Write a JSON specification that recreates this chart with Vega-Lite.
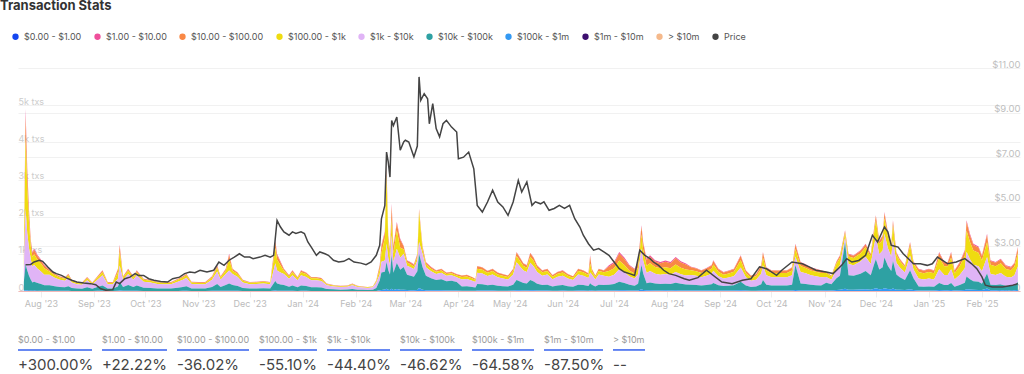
{
"$schema": "https://vega.github.io/schema/vega-lite/v6.json",
"padding": {"left": 0, "top": 0, "right": 4, "bottom": 0},
"background": "white",
"bounds": "flush",
"spacing": 41,
"title": {"text": "Transaction Stats", "anchor": "start", "dx": -11, "dy": -1, "fontSize": 13, "fontWeight": 700, "color": "#333333", "font": "Inter", "offset": 18},
"config": {"font": "Inter", "view": {"stroke": null}},
"datasets": {
"tx": [
{"date":"2023-07-22","b":20,"c":80,"d":200,"e":350,"f":240,"g":10},
{"date":"2023-07-23","b":180,"c":600,"d":1900,"e":1500,"f":700,"g":20},
{"date":"2023-07-24","b":100,"c":450,"d":1200,"e":1000,"f":530,"g":20},
{"date":"2023-07-25","b":60,"c":280,"d":700,"e":750,"f":400,"g":10},
{"date":"2023-07-26","b":42,"c":140,"d":350,"e":560,"f":294,"g":14},
{"date":"2023-07-27","b":32,"c":105,"d":262,"e":420,"f":221,"g":10},
{"date":"2023-07-28","b":34,"c":114,"d":285,"e":456,"f":240,"g":11},
{"date":"2023-07-30","b":29,"c":97,"d":243,"e":388,"f":204,"g":9},
{"date":"2023-08-01","b":26,"c":85,"d":212,"e":340,"f":178,"g":9},
{"date":"2023-08-03","b":21,"c":70,"d":175,"e":280,"f":147,"g":7},
{"date":"2023-08-06","b":12,"c":41,"d":87,"e":284,"f":151,"g":5},
{"date":"2023-08-09","b":9,"c":33,"d":70,"e":230,"f":123,"g":5},
{"date":"2023-08-12","b":8,"c":28,"d":60,"e":196,"f":104,"g":4},
{"date":"2023-08-15","b":7,"c":25,"d":54,"e":176,"f":94,"g":4},
{"date":"2023-08-17","b":9,"c":33,"d":70,"e":228,"f":121,"g":5},
{"date":"2023-08-19","b":6,"c":21,"d":45,"e":147,"f":78,"g":3},
{"date":"2023-08-22","b":5,"c":17,"d":36,"e":118,"f":62,"g":2},
{"date":"2023-08-25","b":5,"c":16,"d":34,"e":110,"f":59,"g":2},
{"date":"2023-08-28","b":8,"c":27,"d":57,"e":186,"f":99,"g":3},
{"date":"2023-08-31","b":5,"c":16,"d":35,"e":112,"f":60,"g":2},
{"date":"2023-09-03","b":8,"c":28,"d":60,"e":196,"f":104,"g":4},
{"date":"2023-09-06","b":11,"c":39,"d":83,"e":272,"f":145,"g":6},
{"date":"2023-09-09","b":5,"c":17,"d":36,"e":118,"f":62,"g":2},
{"date":"2023-09-12","b":5,"c":17,"d":36,"e":118,"f":62,"g":2},
{"date":"2023-09-15","b":18,"c":72,"d":180,"e":210,"f":114,"g":6},
{"date":"2023-09-16","b":37,"c":149,"d":374,"e":436,"f":237,"g":12},
{"date":"2023-09-18","b":8,"c":28,"d":60,"e":196,"f":104,"g":4},
{"date":"2023-09-21","b":12,"c":42,"d":90,"e":294,"f":156,"g":6},
{"date":"2023-09-24","b":8,"c":28,"d":60,"e":196,"f":104,"g":4},
{"date":"2023-09-26","b":11,"c":39,"d":83,"e":272,"f":145,"g":6},
{"date":"2023-09-30","b":7,"c":23,"d":50,"e":162,"f":86,"g":3},
{"date":"2023-10-04","b":6,"c":21,"d":45,"e":147,"f":78,"g":3},
{"date":"2023-10-08","b":5,"c":18,"d":37,"e":122,"f":65,"g":3},
{"date":"2023-10-12","b":5,"c":17,"d":36,"e":119,"f":63,"g":2},
{"date":"2023-10-16","b":5,"c":17,"d":36,"e":118,"f":62,"g":2},
{"date":"2023-10-20","b":7,"c":23,"d":50,"e":162,"f":86,"g":3},
{"date":"2023-10-23","b":8,"c":28,"d":60,"e":196,"f":104,"g":4},
{"date":"2023-10-25","b":9,"c":33,"d":70,"e":228,"f":121,"g":5},
{"date":"2023-10-28","b":5,"c":18,"d":37,"e":122,"f":65,"g":3},
{"date":"2023-11-01","b":5,"c":17,"d":36,"e":118,"f":62,"g":2},
{"date":"2023-11-05","b":5,"c":17,"d":36,"e":118,"f":62,"g":2},
{"date":"2023-11-09","b":8,"c":28,"d":60,"e":196,"f":104,"g":4},
{"date":"2023-11-12","b":14,"c":48,"d":104,"e":338,"f":179,"g":7},
{"date":"2023-11-14","b":8,"c":28,"d":60,"e":196,"f":104,"g":4},
{"date":"2023-11-17","b":12,"c":42,"d":90,"e":294,"f":156,"g":6},
{"date":"2023-11-19","b":30,"c":120,"d":300,"e":350,"f":190,"g":10},
{"date":"2023-11-21","b":12,"c":42,"d":90,"e":294,"f":156,"g":6},
{"date":"2023-11-24","b":10,"c":35,"d":75,"e":245,"f":130,"g":5},
{"date":"2023-11-27","b":6,"c":21,"d":45,"e":147,"f":78,"g":3},
{"date":"2023-12-01","b":5,"c":17,"d":36,"e":119,"f":63,"g":2},
{"date":"2023-12-05","b":5,"c":18,"d":37,"e":122,"f":65,"g":3},
{"date":"2023-12-09","b":5,"c":19,"d":41,"e":132,"f":70,"g":3},
{"date":"2023-12-13","b":5,"c":17,"d":36,"e":119,"f":63,"g":2},
{"date":"2023-12-16","b":41,"c":163,"d":408,"e":476,"f":258,"g":14},
{"date":"2023-12-17","b":30,"c":120,"d":300,"e":350,"f":190,"g":10},
{"date":"2023-12-19","b":24,"c":80,"d":200,"e":320,"f":168,"g":8},
{"date":"2023-12-21","b":12,"c":42,"d":90,"e":294,"f":156,"g":6},
{"date":"2023-12-24","b":9,"c":30,"d":65,"e":211,"f":112,"g":4},
{"date":"2023-12-26","b":11,"c":39,"d":83,"e":272,"f":145,"g":6},
{"date":"2023-12-29","b":8,"c":27,"d":57,"e":186,"f":99,"g":3},
{"date":"2023-12-31","b":11,"c":39,"d":83,"e":272,"f":145,"g":6},
{"date":"2024-01-03","b":10,"c":35,"d":75,"e":245,"f":130,"g":5},
{"date":"2024-01-06","b":8,"c":27,"d":57,"e":186,"f":99,"g":3},
{"date":"2024-01-09","b":8,"c":27,"d":57,"e":186,"f":99,"g":3},
{"date":"2024-01-12","b":7,"c":25,"d":52,"e":172,"f":91,"g":3},
{"date":"2024-01-15","b":4,"c":14,"d":30,"e":98,"f":52,"g":2},
{"date":"2024-01-19","b":3,"c":11,"d":24,"e":78,"f":42,"g":2},
{"date":"2024-01-23","b":3,"c":10,"d":21,"e":69,"f":36,"g":1},
{"date":"2024-01-27","b":3,"c":10,"d":23,"e":74,"f":39,"g":1},
{"date":"2024-01-30","b":4,"c":14,"d":30,"e":98,"f":52,"g":2},
{"date":"2024-02-02","b":3,"c":10,"d":21,"e":69,"f":36,"g":1},
{"date":"2024-02-05","b":2,"c":8,"d":18,"e":59,"f":31,"g":2},
{"date":"2024-02-08","b":2,"c":8,"d":16,"e":54,"f":29,"g":1},
{"date":"2024-02-11","b":3,"c":9,"d":19,"e":64,"f":34,"g":1},
{"date":"2024-02-13","b":6,"c":20,"d":44,"e":142,"f":75,"g":3},
{"date":"2024-02-15","b":18,"c":105,"d":133,"e":161,"f":266,"g":17},
{"date":"2024-02-16","b":31,"c":186,"d":235,"e":285,"f":470,"g":30},
{"date":"2024-02-18","b":30,"c":150,"d":600,"e":300,"f":480,"g":40},
{"date":"2024-02-19","b":40,"c":230,"d":1840,"e":492,"f":720,"g":59},
{"date":"2024-02-20","b":25,"c":140,"d":450,"e":330,"f":520,"g":35},
{"date":"2024-02-21","b":28,"c":165,"d":209,"e":253,"f":418,"g":27},
{"date":"2024-02-22","b":60,"c":350,"d":440,"e":540,"f":900,"g":60},
{"date":"2024-02-23","b":31,"c":183,"d":232,"e":281,"f":463,"g":30},
{"date":"2024-02-25","b":40,"c":180,"d":500,"e":380,"f":700,"g":56},
{"date":"2024-02-27","b":35,"c":211,"d":267,"e":324,"f":535,"g":35},
{"date":"2024-02-29","b":18,"c":79,"d":122,"e":354,"f":610,"g":37},
{"date":"2024-03-02","b":12,"c":54,"d":83,"e":241,"f":415,"g":25},
{"date":"2024-03-04","b":12,"c":51,"d":78,"e":226,"f":390,"g":23},
{"date":"2024-03-06","b":11,"c":47,"d":72,"e":209,"f":360,"g":21},
{"date":"2024-03-08","b":15,"c":65,"d":100,"e":290,"f":500,"g":30},
{"date":"2024-03-09","b":20,"c":70,"d":807,"e":315,"f":920,"g":82},
{"date":"2024-03-11","b":18,"c":79,"d":122,"e":354,"f":610,"g":37},
{"date":"2024-03-13","b":12,"c":51,"d":78,"e":226,"f":390,"g":23},
{"date":"2024-03-16","b":10,"c":42,"d":65,"e":189,"f":325,"g":19},
{"date":"2024-03-19","b":8,"c":36,"d":56,"e":163,"f":280,"g":17},
{"date":"2024-03-22","b":9,"c":39,"d":60,"e":174,"f":300,"g":18},
{"date":"2024-03-25","b":8,"c":32,"d":50,"e":145,"f":250,"g":15},
{"date":"2024-03-28","b":8,"c":34,"d":52,"e":151,"f":260,"g":15},
{"date":"2024-03-31","b":7,"c":30,"d":45,"e":132,"f":228,"g":13},
{"date":"2024-04-03","b":6,"c":38,"d":67,"e":189,"f":111,"g":9},
{"date":"2024-04-06","b":7,"c":40,"d":70,"e":198,"f":117,"g":8},
{"date":"2024-04-09","b":6,"c":34,"d":61,"e":171,"f":101,"g":7},
{"date":"2024-04-11","b":5,"c":30,"d":53,"e":148,"f":87,"g":7},
{"date":"2024-04-12","b":10,"c":61,"d":108,"e":303,"f":178,"g":13},
{"date":"2024-04-15","b":10,"c":58,"d":102,"e":288,"f":170,"g":12},
{"date":"2024-04-18","b":8,"c":49,"d":87,"e":245,"f":144,"g":12},
{"date":"2024-04-21","b":9,"c":54,"d":96,"e":270,"f":159,"g":12},
{"date":"2024-04-24","b":8,"c":45,"d":80,"e":225,"f":132,"g":10},
{"date":"2024-04-27","b":7,"c":41,"d":73,"e":205,"f":120,"g":9},
{"date":"2024-04-30","b":6,"c":38,"d":67,"e":189,"f":111,"g":9},
{"date":"2024-05-03","b":9,"c":54,"d":96,"e":270,"f":159,"g":12},
{"date":"2024-05-05","b":16,"c":95,"d":168,"e":472,"f":278,"g":21},
{"date":"2024-05-07","b":14,"c":81,"d":144,"e":405,"f":238,"g":18},
{"date":"2024-05-09","b":11,"c":68,"d":120,"e":337,"f":199,"g":15},
{"date":"2024-05-11","b":11,"c":63,"d":112,"e":315,"f":185,"g":14},
{"date":"2024-05-13","b":15,"c":93,"d":165,"e":464,"f":273,"g":20},
{"date":"2024-05-15","b":14,"c":81,"d":144,"e":405,"f":238,"g":18},
{"date":"2024-05-17","b":10,"c":62,"d":110,"e":311,"f":183,"g":14},
{"date":"2024-05-20","b":8,"c":50,"d":90,"e":252,"f":148,"g":12},
{"date":"2024-05-23","b":9,"c":54,"d":96,"e":270,"f":159,"g":12},
{"date":"2024-05-26","b":6,"c":39,"d":69,"e":194,"f":114,"g":8},
{"date":"2024-05-29","b":8,"c":47,"d":83,"e":234,"f":138,"g":10},
{"date":"2024-06-01","b":8,"c":50,"d":89,"e":250,"f":147,"g":12},
{"date":"2024-06-04","b":7,"c":41,"d":74,"e":207,"f":122,"g":9},
{"date":"2024-06-07","b":6,"c":36,"d":64,"e":180,"f":106,"g":8},
{"date":"2024-06-10","b":9,"c":54,"d":96,"e":270,"f":159,"g":12},
{"date":"2024-06-13","b":8,"c":50,"d":90,"e":252,"f":148,"g":12},
{"date":"2024-06-16","b":7,"c":43,"d":77,"e":216,"f":127,"g":10},
{"date":"2024-06-17","b":29,"c":192,"d":240,"e":288,"f":192,"g":19},
{"date":"2024-06-18","b":9,"c":54,"d":96,"e":270,"f":159,"g":12},
{"date":"2024-06-20","b":6,"c":38,"d":67,"e":189,"f":111,"g":9},
{"date":"2024-06-22","b":9,"c":54,"d":96,"e":270,"f":159,"g":12},
{"date":"2024-06-25","b":8,"c":50,"d":90,"e":252,"f":148,"g":12},
{"date":"2024-06-28","b":28,"c":124,"d":152,"e":221,"f":152,"g":13},
{"date":"2024-07-01","b":31,"c":140,"d":172,"e":250,"f":172,"g":15},
{"date":"2024-07-04","b":42,"c":189,"d":231,"e":336,"f":231,"g":21},
{"date":"2024-07-07","b":36,"c":162,"d":198,"e":288,"f":198,"g":18},
{"date":"2024-07-10","b":28,"c":126,"d":154,"e":224,"f":154,"g":14},
{"date":"2024-07-13","b":24,"c":108,"d":132,"e":192,"f":132,"g":12},
{"date":"2024-07-15","b":32,"c":144,"d":176,"e":256,"f":176,"g":16},
{"date":"2024-07-17","b":40,"c":200,"d":380,"e":450,"f":650,"g":47},
{"date":"2024-07-18","b":30,"c":180,"d":280,"e":350,"f":440,"g":30},
{"date":"2024-07-20","b":35,"c":157,"d":191,"e":278,"f":191,"g":18},
{"date":"2024-07-22","b":38,"c":173,"d":211,"e":307,"f":211,"g":20},
{"date":"2024-07-25","b":33,"c":149,"d":183,"e":266,"f":183,"g":16},
{"date":"2024-07-28","b":31,"c":140,"d":172,"e":250,"f":172,"g":15},
{"date":"2024-07-31","b":33,"c":148,"d":180,"e":262,"f":180,"g":17},
{"date":"2024-08-03","b":31,"c":140,"d":172,"e":250,"f":172,"g":15},
{"date":"2024-08-06","b":37,"c":165,"d":201,"e":293,"f":201,"g":18},
{"date":"2024-08-09","b":32,"c":144,"d":176,"e":256,"f":176,"g":16},
{"date":"2024-08-12","b":30,"c":133,"d":163,"e":237,"f":163,"g":14},
{"date":"2024-08-15","b":13,"c":78,"d":130,"e":260,"f":156,"g":13},
{"date":"2024-08-18","b":12,"c":74,"d":124,"e":248,"f":149,"g":13},
{"date":"2024-08-21","b":11,"c":67,"d":112,"e":224,"f":134,"g":12},
{"date":"2024-08-24","b":12,"c":74,"d":124,"e":248,"f":149,"g":13},
{"date":"2024-08-27","b":14,"c":84,"d":140,"e":280,"f":168,"g":14},
{"date":"2024-08-28","b":17,"c":99,"d":165,"e":330,"f":198,"g":17},
{"date":"2024-08-31","b":12,"c":72,"d":120,"e":240,"f":144,"g":12},
{"date":"2024-09-03","b":10,"c":61,"d":102,"e":204,"f":122,"g":11},
{"date":"2024-09-06","b":11,"c":66,"d":110,"e":220,"f":132,"g":11},
{"date":"2024-09-09","b":12,"c":72,"d":120,"e":240,"f":144,"g":12},
{"date":"2024-09-13","b":19,"c":115,"d":192,"e":384,"f":230,"g":20},
{"date":"2024-09-16","b":11,"c":67,"d":112,"e":224,"f":134,"g":12},
{"date":"2024-09-19","b":8,"c":50,"d":84,"e":168,"f":101,"g":9},
{"date":"2024-09-22","b":9,"c":55,"d":92,"e":184,"f":110,"g":10},
{"date":"2024-09-25","b":14,"c":84,"d":140,"e":280,"f":168,"g":14},
{"date":"2024-09-26","b":21,"c":126,"d":210,"e":400,"f":270,"g":23},
{"date":"2024-09-28","b":13,"c":77,"d":128,"e":256,"f":154,"g":12},
{"date":"2024-10-01","b":11,"c":67,"d":112,"e":224,"f":134,"g":12},
{"date":"2024-10-04","b":11,"c":67,"d":112,"e":224,"f":134,"g":12},
{"date":"2024-10-07","b":11,"c":67,"d":112,"e":224,"f":134,"g":12},
{"date":"2024-10-10","b":11,"c":67,"d":112,"e":224,"f":134,"g":12},
{"date":"2024-10-13","b":13,"c":77,"d":128,"e":256,"f":154,"g":12},
{"date":"2024-10-15","b":25,"c":120,"d":200,"e":230,"f":670,"g":27},
{"date":"2024-10-18","b":16,"c":94,"d":156,"e":312,"f":187,"g":15},
{"date":"2024-10-21","b":14,"c":86,"d":144,"e":288,"f":173,"g":15},
{"date":"2024-10-24","b":13,"c":77,"d":128,"e":256,"f":154,"g":12},
{"date":"2024-10-27","b":12,"c":72,"d":120,"e":240,"f":144,"g":12},
{"date":"2024-10-30","b":11,"c":67,"d":112,"e":224,"f":134,"g":12},
{"date":"2024-11-02","b":8,"c":31,"d":104,"e":156,"f":203,"g":18},
{"date":"2024-11-05","b":6,"c":25,"d":84,"e":126,"f":164,"g":15},
{"date":"2024-11-08","b":12,"c":48,"d":160,"e":240,"f":312,"g":28},
{"date":"2024-11-10","b":14,"c":58,"d":192,"e":288,"f":374,"g":34},
{"date":"2024-11-13","b":20,"c":60,"d":120,"e":120,"f":1250,"g":62},
{"date":"2024-11-15","b":15,"c":60,"d":200,"e":300,"f":390,"g":35},
{"date":"2024-11-18","b":14,"c":58,"d":192,"e":288,"f":374,"g":34},
{"date":"2024-11-22","b":16,"c":66,"d":219,"e":328,"f":427,"g":38},
{"date":"2024-11-25","b":19,"c":76,"d":254,"e":382,"f":496,"g":45},
{"date":"2024-11-28","b":15,"c":60,"d":200,"e":300,"f":390,"g":35},
{"date":"2024-11-30","b":26,"c":102,"d":340,"e":510,"f":663,"g":59},
{"date":"2024-12-01","b":20,"c":122,"d":448,"e":590,"f":780,"g":76},
{"date":"2024-12-03","b":20,"c":82,"d":272,"e":409,"f":531,"g":48},
{"date":"2024-12-05","b":23,"c":90,"d":300,"e":450,"f":585,"g":52},
{"date":"2024-12-06","b":32,"c":128,"d":425,"e":638,"f":829,"g":73},
{"date":"2024-12-08","b":24,"c":96,"d":320,"e":480,"f":624,"g":56},
{"date":"2024-12-10","b":19,"c":76,"d":254,"e":382,"f":496,"g":45},
{"date":"2024-12-11","b":29,"c":114,"d":380,"e":571,"f":742,"g":66},
{"date":"2024-12-13","b":16,"c":63,"d":210,"e":315,"f":410,"g":36},
{"date":"2024-12-15","b":13,"c":52,"d":174,"e":261,"f":339,"g":31},
{"date":"2024-12-18","b":10,"c":41,"d":138,"e":207,"f":269,"g":25},
{"date":"2024-12-21","b":20,"c":79,"d":264,"e":395,"f":514,"g":46},
{"date":"2024-12-23","b":12,"c":48,"d":160,"e":240,"f":312,"g":28},
{"date":"2024-12-26","b":15,"c":72,"d":180,"e":210,"f":108,"g":15},
{"date":"2024-12-29","b":14,"c":67,"d":168,"e":196,"f":101,"g":14},
{"date":"2025-01-01","b":15,"c":72,"d":180,"e":210,"f":108,"g":15},
{"date":"2025-01-04","b":14,"c":67,"d":168,"e":196,"f":101,"g":14},
{"date":"2025-01-07","b":26,"c":126,"d":315,"e":368,"f":189,"g":26},
{"date":"2025-01-10","b":20,"c":94,"d":234,"e":273,"f":140,"g":19},
{"date":"2025-01-12","b":20,"c":94,"d":234,"e":273,"f":140,"g":19},
{"date":"2025-01-14","b":26,"c":126,"d":315,"e":368,"f":189,"g":26},
{"date":"2025-01-16","b":14,"c":67,"d":168,"e":196,"f":101,"g":14},
{"date":"2025-01-19","b":20,"c":94,"d":234,"e":273,"f":140,"g":19},
{"date":"2025-01-22","b":28,"c":132,"d":330,"e":385,"f":198,"g":27},
{"date":"2025-01-23","b":48,"c":228,"d":571,"e":666,"f":342,"g":47},
{"date":"2025-01-25","b":39,"c":185,"d":463,"e":540,"f":277,"g":38},
{"date":"2025-01-27","b":32,"c":153,"d":382,"e":445,"f":229,"g":31},
{"date":"2025-01-30","b":30,"c":144,"d":360,"e":420,"f":216,"g":30},
{"date":"2025-02-01","b":24,"c":115,"d":288,"e":336,"f":173,"g":24},
{"date":"2025-02-04","b":39,"c":185,"d":400,"e":450,"f":400,"g":68},
{"date":"2025-02-06","b":21,"c":99,"d":248,"e":289,"f":149,"g":20},
{"date":"2025-02-09","b":20,"c":94,"d":234,"e":273,"f":140,"g":19},
{"date":"2025-02-12","b":22,"c":104,"d":261,"e":305,"f":157,"g":21},
{"date":"2025-02-15","b":17,"c":83,"d":207,"e":242,"f":124,"g":17},
{"date":"2025-02-18","b":16,"c":78,"d":195,"e":228,"f":117,"g":16},
{"date":"2025-02-20","b":19,"c":91,"d":228,"e":266,"f":137,"g":19},
{"date":"2025-02-22","b":30,"c":142,"d":355,"e":414,"f":213,"g":30}
],
"px": [
{"date":"2023-07-23","price":2.18},{"date":"2023-07-26","price":2.19},{"date":"2023-07-28","price":2.30},{"date":"2023-07-31","price":2.38},
{"date":"2023-08-02","price":2.33},{"date":"2023-08-05","price":2.08},{"date":"2023-08-08","price":1.85},{"date":"2023-08-10","price":1.78},
{"date":"2023-08-13","price":1.70},{"date":"2023-08-16","price":1.58},{"date":"2023-08-19","price":1.48},{"date":"2023-08-22","price":1.40},
{"date":"2023-08-26","price":1.36},{"date":"2023-08-30","price":1.33},{"date":"2023-09-02","price":1.28},{"date":"2023-09-05","price":1.10},
{"date":"2023-09-08","price":1.03},{"date":"2023-09-12","price":1.06},{"date":"2023-09-14","price":1.40},{"date":"2023-09-16","price":1.33},
{"date":"2023-09-19","price":1.55},{"date":"2023-09-22","price":1.62},{"date":"2023-09-25","price":1.78},{"date":"2023-09-27","price":1.70},
{"date":"2023-09-30","price":1.70},{"date":"2023-10-03","price":1.55},{"date":"2023-10-06","price":1.48},{"date":"2023-10-10","price":1.43},
{"date":"2023-10-14","price":1.40},{"date":"2023-10-17","price":1.55},{"date":"2023-10-21","price":1.62},{"date":"2023-10-24","price":1.78},
{"date":"2023-10-27","price":1.85},{"date":"2023-10-30","price":1.82},{"date":"2023-11-02","price":1.93},{"date":"2023-11-06","price":1.85},
{"date":"2023-11-10","price":1.93},{"date":"2023-11-13","price":2.30},{"date":"2023-11-16","price":2.15},{"date":"2023-11-19","price":2.38},
{"date":"2023-11-22","price":2.52},{"date":"2023-11-25","price":2.67},{"date":"2023-11-28","price":2.52},{"date":"2023-12-01","price":2.52},
{"date":"2023-12-03","price":2.45},{"date":"2023-12-07","price":2.52},{"date":"2023-12-10","price":2.60},{"date":"2023-12-13","price":2.52},
{"date":"2023-12-15","price":2.60},{"date":"2023-12-17","price":4.17},{"date":"2023-12-19","price":3.87},{"date":"2023-12-21","price":3.65},
{"date":"2023-12-24","price":3.50},{"date":"2023-12-26","price":3.65},{"date":"2023-12-28","price":3.58},{"date":"2023-12-31","price":3.65},
{"date":"2024-01-02","price":3.58},{"date":"2024-01-04","price":3.20},{"date":"2024-01-06","price":2.97},{"date":"2024-01-09","price":2.60},
{"date":"2024-01-11","price":2.75},{"date":"2024-01-14","price":2.67},{"date":"2024-01-16","price":2.60},{"date":"2024-01-19","price":2.38},
{"date":"2024-01-22","price":2.30},{"date":"2024-01-25","price":2.33},{"date":"2024-01-28","price":2.45},{"date":"2024-01-31","price":2.30},
{"date":"2024-02-04","price":2.25},{"date":"2024-02-07","price":2.18},{"date":"2024-02-10","price":2.30},{"date":"2024-02-13","price":2.60},
{"date":"2024-02-15","price":3.05},{"date":"2024-02-16","price":4.24},{"date":"2024-02-18","price":4.84},{"date":"2024-02-19","price":7.23},
{"date":"2024-02-20","price":6.78},{"date":"2024-02-21","price":6.11},{"date":"2024-02-22","price":8.65},{"date":"2024-02-23","price":8.42},
{"date":"2024-02-25","price":8.80},{"date":"2024-02-27","price":7.31},{"date":"2024-02-29","price":7.68},{"date":"2024-03-01","price":7.76},
{"date":"2024-03-03","price":7.68},{"date":"2024-03-05","price":7.23},{"date":"2024-03-06","price":7.01},{"date":"2024-03-08","price":7.50},
{"date":"2024-03-09","price":10.60},{"date":"2024-03-10","price":9.55},{"date":"2024-03-12","price":9.85},{"date":"2024-03-14","price":9.62},
{"date":"2024-03-15","price":8.50},{"date":"2024-03-17","price":9.40},{"date":"2024-03-19","price":8.28},{"date":"2024-03-21","price":7.91},
{"date":"2024-03-23","price":8.50},{"date":"2024-03-25","price":8.65},{"date":"2024-03-28","price":8.35},{"date":"2024-03-31","price":8.13},
{"date":"2024-04-01","price":6.93},{"date":"2024-04-04","price":7.00},{"date":"2024-04-07","price":7.23},{"date":"2024-04-10","price":6.48},
{"date":"2024-04-12","price":4.84},{"date":"2024-04-15","price":4.54},{"date":"2024-04-18","price":4.99},{"date":"2024-04-21","price":5.52},
{"date":"2024-04-24","price":4.99},{"date":"2024-04-27","price":4.77},{"date":"2024-04-30","price":4.39},{"date":"2024-05-03","price":4.99},
{"date":"2024-05-06","price":5.96},{"date":"2024-05-08","price":5.44},{"date":"2024-05-11","price":5.89},{"date":"2024-05-14","price":4.84},
{"date":"2024-05-16","price":5.00},{"date":"2024-05-19","price":4.91},{"date":"2024-05-21","price":5.00},{"date":"2024-05-24","price":4.62},
{"date":"2024-05-27","price":4.70},{"date":"2024-05-30","price":4.84},{"date":"2024-06-02","price":4.70},{"date":"2024-06-05","price":4.84},
{"date":"2024-06-08","price":4.24},{"date":"2024-06-11","price":3.87},{"date":"2024-06-13","price":3.50},{"date":"2024-06-16","price":3.12},
{"date":"2024-06-19","price":2.83},{"date":"2024-06-22","price":2.90},{"date":"2024-06-25","price":2.75},{"date":"2024-06-28","price":2.60},
{"date":"2024-07-01","price":2.30},{"date":"2024-07-04","price":2.00},{"date":"2024-07-07","price":1.85},{"date":"2024-07-10","price":1.78},
{"date":"2024-07-13","price":1.70},{"date":"2024-07-16","price":2.83},{"date":"2024-07-19","price":2.60},{"date":"2024-07-22","price":2.45},
{"date":"2024-07-24","price":2.30},{"date":"2024-07-27","price":2.15},{"date":"2024-07-30","price":1.93},{"date":"2024-08-02","price":1.78},
{"date":"2024-08-06","price":1.70},{"date":"2024-08-11","price":1.55},{"date":"2024-08-14","price":1.48},{"date":"2024-08-19","price":1.60},
{"date":"2024-08-24","price":1.93},{"date":"2024-09-02","price":1.40},{"date":"2024-09-08","price":1.33},{"date":"2024-09-14","price":1.48},
{"date":"2024-09-19","price":1.55},{"date":"2024-09-24","price":2.08},{"date":"2024-09-28","price":2.00},{"date":"2024-10-04","price":1.70},
{"date":"2024-10-07","price":1.93},{"date":"2024-10-13","price":2.30},{"date":"2024-10-19","price":2.22},{"date":"2024-10-23","price":2.08},
{"date":"2024-10-27","price":1.93},{"date":"2024-11-02","price":1.85},{"date":"2024-11-06","price":1.78},{"date":"2024-11-11","price":2.15},
{"date":"2024-11-14","price":2.45},{"date":"2024-11-17","price":2.30},{"date":"2024-11-21","price":2.37},{"date":"2024-11-25","price":2.60},
{"date":"2024-11-29","price":3.50},{"date":"2024-12-02","price":3.20},{"date":"2024-12-06","price":3.87},{"date":"2024-12-08","price":3.65},
{"date":"2024-12-10","price":3.05},{"date":"2024-12-14","price":2.97},{"date":"2024-12-17","price":2.67},{"date":"2024-12-20","price":2.45},
{"date":"2024-12-23","price":2.22},{"date":"2024-12-27","price":2.22},{"date":"2024-12-31","price":2.15},{"date":"2025-01-03","price":2.22},
{"date":"2025-01-06","price":2.52},{"date":"2025-01-09","price":2.37},{"date":"2025-01-12","price":2.22},{"date":"2025-01-17","price":2.30},
{"date":"2025-01-22","price":2.45},{"date":"2025-01-26","price":2.22},{"date":"2025-01-29","price":2.00},{"date":"2025-02-01","price":1.63},
{"date":"2025-02-03","price":1.26},{"date":"2025-02-07","price":1.18},{"date":"2025-02-13","price":1.18},{"date":"2025-02-19","price":1.26},
{"date":"2025-02-22","price":1.33}
]
},
"vconcat": [
{
"width": 1002,
"height": 223,
"layer": [
{
"data": {"name": "tx"},
"transform": [{"fold": ["b","c","d","e","f","g"], "as": ["k","v"]}],
"mark": {"type": "area", "interpolate": "linear"},
"encoding": {
"x": {"field": "date", "type": "temporal",
"scale": {"type": "utc", "domain": [{"year":2023,"month":7,"date":18,"hours":14,"utc":true},{"year":2025,"month":2,"date":23,"hours":6,"utc":true}]},
"axis": {"format": "%b '%y", "tickCount": {"interval": "month", "step": 1}, "labelColor": "#bbbbbb", "labelFontSize": 9, "labelFont": "Inter", "tickColor": "#eeeeee", "tickSize": 6, "domainColor": "#f3b9b9", "grid": false, "title": null, "labelPadding": 2, "labelFlush": false, "labelOverlap": false}},
"y": {"field": "v", "type": "quantitative", "stack": "zero", "scale": {"domain": [0, 6000], "nice": false},
"axis": {"orient": "left", "values": [0,1000,2000,3000,4000,5000], "labelExpr": "datum.value == 0 ? '0 txs' : (datum.value/1000) + 'k txs'", "labelAlign": "left", "labelBaseline": "alphabetic", "labelPadding": 0, "labelOffset": -1, "ticks": false, "tickSize": 0, "domain": false, "grid": true, "gridColor": "#f1f1f1", "labelColor": "#cccccc", "labelFontSize": 9, "labelFont": "Inter", "title": null}},
"color": {"field": "k", "type": "nominal",
"scale": {"domain": ["a","b","c","d","e","f","g","h","i","price"], "range": ["#1546f0","#ef4f9b","#f98845","#efdc10","#e0b4f6","#2ea1a3","#3399f3","#3d0f6f","#f5b98b","#444444"]},
"legend": {"title": null, "orient": "none", "legendX": -7, "legendY": -36, "direction": "horizontal", "symbolType": "circle", "symbolSize": 40, "symbolStrokeWidth": 0, "labelFontSize": 9, "labelColor": "#555555", "labelFont": "Inter", "labelOffset": 4, "columnPadding": 11,
"labelExpr": "['$0.00 - $1.00','$1.00 - $10.00','$10.00 - $100.00','$100.00 - $1k','$1k - $10k','$10k - $100k','$100k - $1m','$1m - $10m','> $10m','Price'][indexof(['a','b','c','d','e','f','g','h','i','price'], datum.label)]"}},
"order": {"field": "k", "sort": "descending"}
}
},
{
"data": {"name": "px"},
"mark": {"type": "line", "strokeWidth": 1.5, "interpolate": "linear"},
"encoding": {
"x": {"field": "date", "type": "temporal"},
"y": {"field": "price", "type": "quantitative", "scale": {"domain": [1, 11], "nice": false, "zero": false},
"axis": {"orient": "right", "values": [1,3,5,7,9,11], "labelExpr": "'$' + format(datum.value, '.2f')", "labelAlign": "right", "labelBaseline": "alphabetic", "labelPadding": 0, "labelOffset": -1, "ticks": false, "tickSize": 0, "domain": false, "grid": true, "gridColor": "#f1f1f1", "labelColor": "#c0c0c0", "labelFontSize": 9.5, "labelFont": "Inter", "title": null}},
"color": {"datum": "price", "type": "nominal"}
}
}
],
"resolve": {"scale": {"y": "independent"}}
},
{
"bounds": "flush",
"spacing": 10,
"hconcat": [
{"width": 74, "height": 40, "data": {"values": [{"band": "$0.00 - $1.00", "chg": "+300.00%"}]},
"encoding": {"x": {"datum": 0, "type": "quantitative", "scale": {"domain": [0, 1], "nice": false}, "axis": null}},
"layer": [
{"mark": {"type": "text", "align": "left", "baseline": "middle", "fontSize": 9, "color": "#9a9a9a"}, "encoding": {"y": {"datum": 32, "type": "quantitative", "scale": {"domain": [0, 40], "nice": false}, "axis": null}, "text": {"field": "band"}}},
{"mark": {"type": "bar", "color": "#3560ee"}, "encoding": {"x2": {"datum": 1}, "y": {"datum": 22.8, "type": "quantitative", "axis": null}, "y2": {"datum": 21.3}}},
{"mark": {"type": "text", "align": "left", "baseline": "middle", "fontSize": 15, "color": "#444444"}, "encoding": {"y": {"datum": 7.5, "type": "quantitative", "axis": null}, "text": {"field": "chg"}}}
]},
{"width": 65, "height": 40, "data": {"values": [{"band": "$1.00 - $10.00", "chg": "+22.22%"}]},
"encoding": {"x": {"datum": 0, "type": "quantitative", "scale": {"domain": [0, 1], "nice": false}, "axis": null}},
"layer": [
{"mark": {"type": "text", "align": "left", "baseline": "middle", "fontSize": 9, "color": "#9a9a9a"}, "encoding": {"y": {"datum": 32, "type": "quantitative", "scale": {"domain": [0, 40], "nice": false}, "axis": null}, "text": {"field": "band"}}},
{"mark": {"type": "bar", "color": "#3560ee"}, "encoding": {"x2": {"datum": 1}, "y": {"datum": 22.8, "type": "quantitative", "axis": null}, "y2": {"datum": 21.3}}},
{"mark": {"type": "text", "align": "left", "baseline": "middle", "fontSize": 15, "color": "#444444"}, "encoding": {"y": {"datum": 7.5, "type": "quantitative", "axis": null}, "text": {"field": "chg"}}}
]},
{"width": 72, "height": 40, "data": {"values": [{"band": "$10.00 - $100.00", "chg": "-36.02%"}]},
"encoding": {"x": {"datum": 0, "type": "quantitative", "scale": {"domain": [0, 1], "nice": false}, "axis": null}},
"layer": [
{"mark": {"type": "text", "align": "left", "baseline": "middle", "fontSize": 9, "color": "#9a9a9a"}, "encoding": {"y": {"datum": 32, "type": "quantitative", "scale": {"domain": [0, 40], "nice": false}, "axis": null}, "text": {"field": "band"}}},
{"mark": {"type": "bar", "color": "#3560ee"}, "encoding": {"x2": {"datum": 1}, "y": {"datum": 22.8, "type": "quantitative", "axis": null}, "y2": {"datum": 21.3}}},
{"mark": {"type": "text", "align": "left", "baseline": "middle", "fontSize": 15, "color": "#444444"}, "encoding": {"y": {"datum": 7.5, "type": "quantitative", "axis": null}, "text": {"field": "chg"}}}
]},
{"width": 58, "height": 40, "data": {"values": [{"band": "$100.00 - $1k", "chg": "-55.10%"}]},
"encoding": {"x": {"datum": 0, "type": "quantitative", "scale": {"domain": [0, 1], "nice": false}, "axis": null}},
"layer": [
{"mark": {"type": "text", "align": "left", "baseline": "middle", "fontSize": 9, "color": "#9a9a9a"}, "encoding": {"y": {"datum": 32, "type": "quantitative", "scale": {"domain": [0, 40], "nice": false}, "axis": null}, "text": {"field": "band"}}},
{"mark": {"type": "bar", "color": "#3560ee"}, "encoding": {"x2": {"datum": 1}, "y": {"datum": 22.8, "type": "quantitative", "axis": null}, "y2": {"datum": 21.3}}},
{"mark": {"type": "text", "align": "left", "baseline": "middle", "fontSize": 15, "color": "#444444"}, "encoding": {"y": {"datum": 7.5, "type": "quantitative", "axis": null}, "text": {"field": "chg"}}}
]},
{"width": 63, "height": 40, "data": {"values": [{"band": "$1k - $10k", "chg": "-44.40%"}]},
"encoding": {"x": {"datum": 0, "type": "quantitative", "scale": {"domain": [0, 1], "nice": false}, "axis": null}},
"layer": [
{"mark": {"type": "text", "align": "left", "baseline": "middle", "fontSize": 9, "color": "#9a9a9a"}, "encoding": {"y": {"datum": 32, "type": "quantitative", "scale": {"domain": [0, 40], "nice": false}, "axis": null}, "text": {"field": "band"}}},
{"mark": {"type": "bar", "color": "#3560ee"}, "encoding": {"x2": {"datum": 1}, "y": {"datum": 22.8, "type": "quantitative", "axis": null}, "y2": {"datum": 21.3}}},
{"mark": {"type": "text", "align": "left", "baseline": "middle", "fontSize": 15, "color": "#444444"}, "encoding": {"y": {"datum": 7.5, "type": "quantitative", "axis": null}, "text": {"field": "chg"}}}
]},
{"width": 62, "height": 40, "data": {"values": [{"band": "$10k - $100k", "chg": "-46.62%"}]},
"encoding": {"x": {"datum": 0, "type": "quantitative", "scale": {"domain": [0, 1], "nice": false}, "axis": null}},
"layer": [
{"mark": {"type": "text", "align": "left", "baseline": "middle", "fontSize": 9, "color": "#9a9a9a"}, "encoding": {"y": {"datum": 32, "type": "quantitative", "scale": {"domain": [0, 40], "nice": false}, "axis": null}, "text": {"field": "band"}}},
{"mark": {"type": "bar", "color": "#3560ee"}, "encoding": {"x2": {"datum": 1}, "y": {"datum": 22.8, "type": "quantitative", "axis": null}, "y2": {"datum": 21.3}}},
{"mark": {"type": "text", "align": "left", "baseline": "middle", "fontSize": 15, "color": "#444444"}, "encoding": {"y": {"datum": 7.5, "type": "quantitative", "axis": null}, "text": {"field": "chg"}}}
]},
{"width": 62, "height": 40, "data": {"values": [{"band": "$100k - $1m", "chg": "-64.58%"}]},
"encoding": {"x": {"datum": 0, "type": "quantitative", "scale": {"domain": [0, 1], "nice": false}, "axis": null}},
"layer": [
{"mark": {"type": "text", "align": "left", "baseline": "middle", "fontSize": 9, "color": "#9a9a9a"}, "encoding": {"y": {"datum": 32, "type": "quantitative", "scale": {"domain": [0, 40], "nice": false}, "axis": null}, "text": {"field": "band"}}},
{"mark": {"type": "bar", "color": "#3560ee"}, "encoding": {"x2": {"datum": 1}, "y": {"datum": 22.8, "type": "quantitative", "axis": null}, "y2": {"datum": 21.3}}},
{"mark": {"type": "text", "align": "left", "baseline": "middle", "fontSize": 15, "color": "#444444"}, "encoding": {"y": {"datum": 7.5, "type": "quantitative", "axis": null}, "text": {"field": "chg"}}}
]},
{"width": 59, "height": 40, "data": {"values": [{"band": "$1m - $10m", "chg": "-87.50%"}]},
"encoding": {"x": {"datum": 0, "type": "quantitative", "scale": {"domain": [0, 1], "nice": false}, "axis": null}},
"layer": [
{"mark": {"type": "text", "align": "left", "baseline": "middle", "fontSize": 9, "color": "#9a9a9a"}, "encoding": {"y": {"datum": 32, "type": "quantitative", "scale": {"domain": [0, 40], "nice": false}, "axis": null}, "text": {"field": "band"}}},
{"mark": {"type": "bar", "color": "#3560ee"}, "encoding": {"x2": {"datum": 1}, "y": {"datum": 22.8, "type": "quantitative", "axis": null}, "y2": {"datum": 21.3}}},
{"mark": {"type": "text", "align": "left", "baseline": "middle", "fontSize": 15, "color": "#444444"}, "encoding": {"y": {"datum": 7.5, "type": "quantitative", "axis": null}, "text": {"field": "chg"}}}
]},
{"width": 32, "height": 40, "data": {"values": [{"band": "> $10m", "chg": "--"}]},
"encoding": {"x": {"datum": 0, "type": "quantitative", "scale": {"domain": [0, 1], "nice": false}, "axis": null}},
"layer": [
{"mark": {"type": "text", "align": "left", "baseline": "middle", "fontSize": 9, "color": "#9a9a9a"}, "encoding": {"y": {"datum": 32, "type": "quantitative", "scale": {"domain": [0, 40], "nice": false}, "axis": null}, "text": {"field": "band"}}},
{"mark": {"type": "bar", "color": "#3560ee"}, "encoding": {"x2": {"datum": 1}, "y": {"datum": 22.8, "type": "quantitative", "axis": null}, "y2": {"datum": 21.3}}},
{"mark": {"type": "text", "align": "left", "baseline": "middle", "fontSize": 15, "color": "#444444"}, "encoding": {"y": {"datum": 7.5, "type": "quantitative", "axis": null}, "text": {"field": "chg"}}}
]}
]
}
]
}
